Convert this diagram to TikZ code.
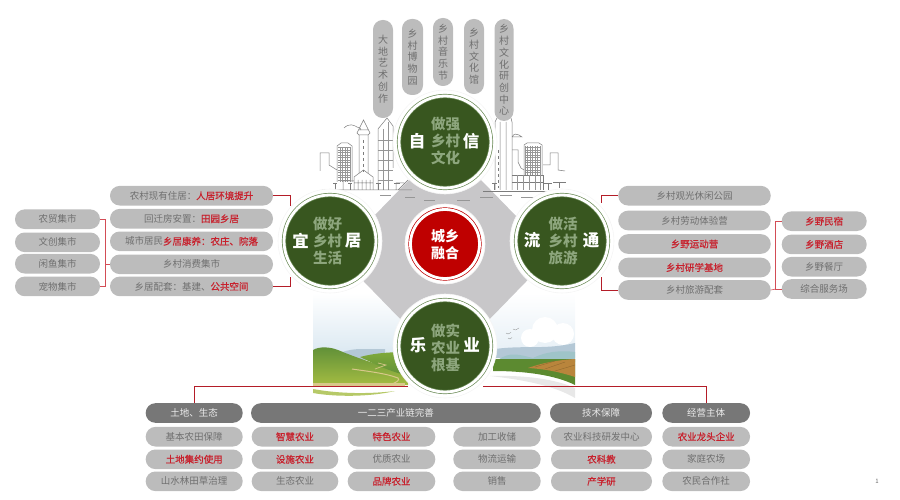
\documentclass[tikz,border=0pt]{standalone}
\usepackage{fontspec}
\setmainfont{Noto Sans CJK SC}

\definecolor{pillgray}{HTML}{BCBCBC}
\definecolor{headgray}{HTML}{777777}
\definecolor{wordgray}{HTML}{6F6F6F}
\definecolor{hotred}{HTML}{C8202C}
\definecolor{discgreen}{HTML}{38561F}
\definecolor{ringgreen}{HTML}{6A8A55}
\definecolor{mutedgreen}{HTML}{8DA67D}
\definecolor{slabgray}{HTML}{C8C7C9}
\definecolor{citygray}{HTML}{7C7C7C}
\definecolor{skyblue}{HTML}{DCE9F2}
\definecolor{farblue}{HTML}{B4C8D6}
\definecolor{farteal}{HTML}{9FC4C8}
\definecolor{ridgegreen}{HTML}{5F8F38}
\definecolor{hillgreen}{HTML}{7FA93A}
\definecolor{meadow}{HTML}{A4BC42}
\definecolor{roadtan}{HTML}{D8C88A}
\definecolor{fieldgreen}{HTML}{5C8A30}
\definecolor{fieldbrown}{HTML}{B9853C}

\newcommand{\hot}[1]{\textcolor{hotred}{\addfontfeature{FakeBold=0.6}#1}}

\tikzset{
    pill/.style={fill=pillgray, rounded corners=9.7pt, inner sep=0pt, minimum height=19.6pt,
        text=wordgray, font=\fontsize{9.5}{11.7}\selectfont},
    vpill/.style={pill, minimum height=0pt, minimum width=20pt, align=center,
        font=\fontsize{10}{11.7}\selectfont},
    head/.style={pill, fill=headgray, text=white!92!black},
    redlink/.style={draw=hotred!90!black, line width=1pt},
    redthin/.style={draw=hotred!80!white, line width=.6pt},
    halo/.style={fill=white, draw=black!4, line width=.6pt},
    disc/.style={circle, fill=discgreen, draw=ringgreen, line width=.7pt, double=white,
        double distance=2.8pt, minimum size=92pt, inner sep=0pt},
    discwords/.style={align=center, inner sep=0pt, text=mutedgreen,
        font=\fontsize{14.5}{17}\selectfont\bfseries},
    sidechar/.style={text=white, inner sep=0pt, font=\fontsize{16.5}{18}\selectfont\bfseries},
    city/.style={draw=citygray, line width=.5pt},
    citylight/.style={draw=citygray!80, line width=.3pt}
}

\begin{document}
\begin{tikzpicture}[x=1pt,y=-1pt]

    \useasboundingbox (0,0) rectangle (900,500);

    % landscape
    \shade[top color=white, bottom color=skyblue] (313,293) rectangle (410,352);
    \shade[top color=white, bottom color=skyblue!70!white] (480,293) rectangle (575,352);
    \fill[farblue] (335,356) .. controls (350,346) and (365,350) .. (385,349) -- (385,360) -- (335,360) -- cycle;
    \fill[white] (530,338) circle (9) (545,330) circle (13) (563,334) circle (11);
    \fill[farblue] (495,358) -- (495,349) .. controls (525,345) and (545,350) .. (575,343) -- (575,358) -- cycle;
    \fill[farteal] (498,360) .. controls (510,351) and (520,355) .. (533,358) .. controls (545,352) and (560,350) .. (575,352) -- (575,362) -- (498,362) -- cycle;
    \draw[black!45, line width=.3pt] (513,329) -- (515.7,330) -- (519,328) (506,333) -- (508,334) -- (511,332.5) (508,338) -- (510,339) -- (512,337.5);

    % hills on the left
    \shade[top color=ridgegreen, bottom color=meadow] (313,385) -- (313,350) .. controls (320,346) and (330,347) .. (338,350) .. controls (350,355) and (375,365) .. (408,372) -- (408,385) -- cycle;
    \shade[top color=hillgreen, bottom color=ridgegreen] (360,357) .. controls (375,353) and (390,352) .. (410,352) -- (410,376) .. controls (390,372) and (375,364) .. (360,357) -- cycle;
    \draw[roadtan, line width=1pt] (352,369) .. controls (365,371) and (385,373) .. (398,378) .. controls (400,380) and (397,382) .. (392,384);
    \draw[roadtan, line width=.7pt] (378,363) -- (386,365) -- (375,369);
    \fill[roadtan] (313,383) -- (405,383) -- (405,386) -- (313,386) -- cycle;
    \fill[meadow!80!white] (313,389) .. controls (340,394) and (370,394) .. (395,391) .. controls (370,397) and (335,397) .. (313,393) -- cycle;

    % field on the right
    \fill[fieldgreen] (493,359) -- (575,359) -- (575,385) .. controls (555,375) and (525,371) .. (493,371) -- cycle;
    \fill[fieldbrown] (528,368) .. controls (545,362) and (560,360) .. (575,359) -- (575,377) .. controls (560,372) and (545,369) .. (528,368) -- cycle;
    \draw[fieldbrown!75!black, line width=.3pt] (535,367) -- (555,361) (545,369) -- (565,362) (555,371) -- (575,365);
    \fill[black!9] (490,376) .. controls (525,375) and (555,379) .. (575,388) -- (575,398) .. controls (555,386) and (525,380) .. (490,376) -- cycle;

    % grey slab
    \fill[slabgray] (445,143) -- (553,254) -- (445,365) -- (337,254) -- cycle;

    % city on the left
    \draw[city] (320,171) -- (320,153) -- (329,153) -- (329,165) -- (337,170);
    \draw[citylight, step=2.5pt] (338,147) grid (351,182);
    \draw[city] (337,182) -- (337,146) -- (341,143) -- (348,143) -- (352,146) -- (352,182);
    \draw[city] (344,128) .. controls (349,123) and (354,125) .. (357,127) .. controls (360,127) and (361,129) .. (361,130);
    \draw[city] (359,173) -- (359,135) -- (357,133) -- (363.5,120) -- (370,133) -- (368,135) -- (368,173) (359,135) -- (368,135) (359,130) -- (368,130);
    \draw[city, dashed] (363.5,140) -- (363.5,172);
    \draw[city] (378,190) -- (378,129) -- (387,118) -- (393,126) -- (393,168);
    \draw[citylight] (378,140) -- (393,140) (378,150) -- (393,150) (378,160) -- (393,160) (378,170) -- (393,170) (378,180) -- (393,180) (383,129) -- (383,190) (388,122) -- (388,190);
    \draw[city] (343,190) -- (343,181) -- (354,181) -- (354,190) (354,190) -- (354,177) -- (363.5,170) -- (373,177) -- (373,190) (358,180) -- (358,190) (362,180) -- (362,190) (366,180) -- (366,190) (370,180) -- (370,190) (354,183) -- (373,183);
    \draw[city, line width=.9pt] (333,183) -- (337,183) (348,183) -- (352,183) (376,183) -- (381,183) (394,183) -- (400,183) (335,183) -- (335,190) (350,183) -- (350,190) (378.5,183) -- (378.5,190);
    \draw[city] (396,190) -- (396,183) -- (404,183) (398,190) -- (408,180) (322,190) -- (412,190);

    % city on the right
    \draw[city] (495,190) -- (495,122) -- (497,118) (511,118) -- (512,122) -- (512,190) (500,122) -- (500,190) (506,122) -- (506,190);
    \draw[city, dashed] (498,150) -- (498,188);
    \draw[city] (512,150) -- (518,150) -- (518,162) -- (521,168) -- (524,170);
    \draw[city] (512,137) .. controls (514,133) and (517,134) .. (519,135) -- (522,137) -- (512,137);
    \draw[citylight, step=2.5pt] (525,146) grid (541,175);
    \draw[city] (524,175) -- (524,145) -- (527,143) -- (539,143) -- (542,145) -- (542,175);
    \draw[city] (543,165) -- (550,165) -- (550,153) -- (558,153) -- (558,170) -- (565,171);
    \draw[city] (512,175) -- (543,175) -- (543,190) (512,182) -- (543,182);
    \draw[citylight] (517,175) -- (517,190) (523,175) -- (523,190) (529,175) -- (529,190) (535,175) -- (535,190) (540,175) -- (540,190);
    \draw[city, line width=.9pt] (492,183) -- (497,183) (544,183) -- (552,183) (553,182) -- (566,182) (494.5,183) -- (494.5,190) (548,183) -- (548,190) (559,182) -- (559,188);
    \draw[city] (483,191) -- (555,191);

    % ground marks over the slab
    \draw[citygray!80, line width=.5pt] (380,195) -- (391,195) (405,197) -- (415,197) (424,200) -- (435,200) (457,200) -- (470,200) (480,197) -- (493,197) (500,195) -- (512,195) (521,197) -- (534,197);

    % top pills
    \node[vpill, minimum height=98pt] at (383,69) (dadi) {大\\地\\艺\\术\\创\\作};
    \node[vpill, minimum height=76pt, minimum width=21pt] at (412.5,57) (bowu) {乡\\村\\博\\物\\园};
    \node[vpill, minimum height=68pt] at (443,52) (yinyue) {乡\\村\\音\\乐\\节};
    \node[vpill, minimum height=75pt] at (474,56.5) (wenhua) {乡\\村\\文\\化\\馆};
    \node[vpill, minimum height=102pt, minimum width=19pt] at (504,70) (yanchuang) {乡\\村\\文\\化\\研\\创\\中\\心};

    % left pills
    \node[pill, minimum width=163pt] at (191.5,195.7) (zhuju) {农村现有住居：\hot{人居环境提升}};
    \node[pill, minimum width=163pt] at (191.5,218.7) (huiqian) {回迁房安置：\hot{田园乡居}};
    \node[pill, minimum width=163pt] at (191.5,241.3) (kangyang) {城市居民\hot{乡居康养：农庄、院落}};
    \node[pill, minimum width=163pt] at (191.5,264.3) (xiaofei) {乡村消费集市};
    \node[pill, minimum width=163pt] at (191.5,286.4) (peitao) {乡居配套：基建、\hot{公共空间}};

    \node[pill, minimum width=85pt] at (57.5,219.2) (nongmao) {农贸集市};
    \node[pill, minimum width=85pt] at (57.5,242.3) (wenchuang) {文创集市};
    \node[pill, minimum width=85pt] at (57.5,263.7) (xianyu) {闲鱼集市};
    \node[pill, minimum width=85pt] at (57.5,286.4) (chongwu) {宠物集市};

    % right pills
    \node[pill, minimum width=152.5pt] at (694.5,195.7) (guanguang) {乡村观光休闲公园};
    \node[pill, minimum width=152.5pt] at (694.5,220.5) (laodong) {乡村劳动体验营};
    \node[pill, minimum width=152.5pt] at (694.5,244) (yundong) {\hot{乡野运动营}};
    \node[pill, minimum width=152.5pt] at (694.5,267.5) (yanxue) {\hot{乡村研学基地}};
    \node[pill, minimum width=152.5pt] at (694.5,290) (lvyou) {乡村旅游配套};

    \node[pill, minimum width=85pt] at (824.2,221.2) (minsu) {\hot{乡野民宿}};
    \node[pill, minimum width=85pt] at (824.2,244.4) (jiudian) {\hot{乡野酒店}};
    \node[pill, minimum width=85pt] at (824.2,266.7) (canting) {乡野餐厅};
    \node[pill, minimum width=85pt] at (824.2,289) (fuwu) {综合服务场};

    % bottom pills
    \node[head, minimum width=97pt] at (194.2,413) (tudi) {土地、生态};
    \node[head, minimum width=289.7pt] at (395.9,413) (chanye) {一二三产业链完善};
    \node[head, minimum width=102pt] at (601,413) (jishu) {技术保障};
    \node[head, minimum width=87.7pt] at (706.2,413) (zhuti) {经营主体};

    \node[pill, minimum width=97pt] at (194.2,436.7) (jiben) {基本农田保障};
    \node[pill, minimum width=97pt] at (194.2,459.3) (jiyue) {\hot{土地集约使用}};
    \node[pill, minimum width=97pt] at (194.2,481.3) (shanshui) {山水林田草治理};

    \node[pill, minimum width=86.6pt] at (295,436.7) (zhihui) {\hot{智慧农业}};
    \node[pill, minimum width=86.6pt] at (295,459.3) (sheshi) {\hot{设施农业}};
    \node[pill, minimum width=86.6pt] at (295,481.3) (shengtai) {生态农业};

    \node[pill, minimum width=87.6pt] at (391.5,436.7) (tese) {\hot{特色农业}};
    \node[pill, minimum width=87.6pt] at (391.5,459.3) (youzhi) {优质农业};
    \node[pill, minimum width=87.6pt] at (391.5,481.3) (pinpai) {\hot{品牌农业}};

    \node[pill, minimum width=87.4pt] at (497,436.7) (jiagong) {加工收储};
    \node[pill, minimum width=87.4pt] at (497,459.3) (wuliu) {物流运输};
    \node[pill, minimum width=87.4pt] at (497,481.3) (xiaoshou) {销售};

    \node[pill, minimum width=101pt] at (601.5,436.7) (keji) {农业科技研发中心};
    \node[pill, minimum width=101pt] at (601.5,459.3) (nongke) {\hot{农科教}};
    \node[pill, minimum width=101pt] at (601.5,481.3) (chanxue) {\hot{产学研}};

    \node[pill, minimum width=87.7pt] at (706.2,436.7) (longtou) {\hot{农业龙头企业}};
    \node[pill, minimum width=87.7pt] at (706.2,459.3) (jiating) {家庭农场};
    \node[pill, minimum width=87.7pt] at (706.2,481.3) (hezuo) {农民合作社};

    % free ends of the connectors
    \coordinate (yitop) at (290,206);
    \coordinate (yibot) at (290,277);
    \coordinate (liutop) at (601,203);
    \coordinate (liubot) at (601,277);
    \coordinate (shijoin) at (105.7,264.3);
    \coordinate (minjoin) at (775.7,289);
    \coordinate (yeleft) at (408,386);
    \coordinate (yeright) at (483,386);

    \draw[redlink] (zhuju.east) -| (yitop);
    \draw[redlink] (peitao.east) -| (yibot);
    \draw[redlink] (guanguang.west) -| (liutop);
    \draw[redlink] (lvyou.west) -| (liubot);
    \draw[redlink] (tudi.north) |- (yeleft);
    \draw[redlink] (zhuti.north) |- (yeright);

    \draw[redthin] (nongmao.east) -| (shijoin) |- (chongwu.east);
    \draw[redthin] (shijoin) -- (xiaofei.west);
    \draw[redthin] (minsu.west) -| (minjoin) -- (fuwu.west);
    \draw[redthin] (lvyou.east) -- (minjoin);

    % circles
    \fill[halo] (445,142) circle (52);
    \node[disc] at (445,142) (zixin) {};
    \node[discwords] at (445.7,141) (zixinwords) {做强\\乡村\\文化};
    \node[sidechar] at (417,141) (zi) {自};
    \node[sidechar] at (471,141) (xin) {信};

    \fill[halo] (330,241) circle (52);
    \node[disc] at (330,241) (yiju) {};
    \node[discwords] at (327.7,241) (yijuwords) {做好\\乡村\\生活};
    \node[sidechar] at (300.7,240.5) (yi) {宜};
    \node[sidechar] at (353,240.5) (ju) {居};

    \fill[halo] (562,241) circle (52);
    \node[disc] at (562,241) (liutong) {};
    \node[discwords] at (563,241) (liutongwords) {做活\\乡村\\旅游};
    \node[sidechar] at (532,240.5) (liu) {流};
    \node[sidechar] at (591,240.5) (tong) {通};

    \fill[halo] (445,346) circle (52);
    \node[disc] at (445,346) (leye) {};
    \node[discwords] at (445.7,348) (leyewords) {做实\\农业\\根基};
    \node[sidechar] at (418,345) (le) {乐};
    \node[sidechar] at (471.7,345) (ye) {业};

    \fill[halo] (445,244) circle (40);
    \node[disc, fill=red!75!black, draw=red!75!black, minimum size=69pt] at (445,244) (ronghe) {};
    \node[discwords, text=white, font=\fontsize{14}{17}\selectfont\bfseries] at (445,244.5) (ronghewords) {城乡\\融合};

    \node[text=black!60, inner sep=0pt, font=\fontsize{6}{7}\selectfont] at (877,481) (yema) {1};

\end{tikzpicture}
\end{document}
